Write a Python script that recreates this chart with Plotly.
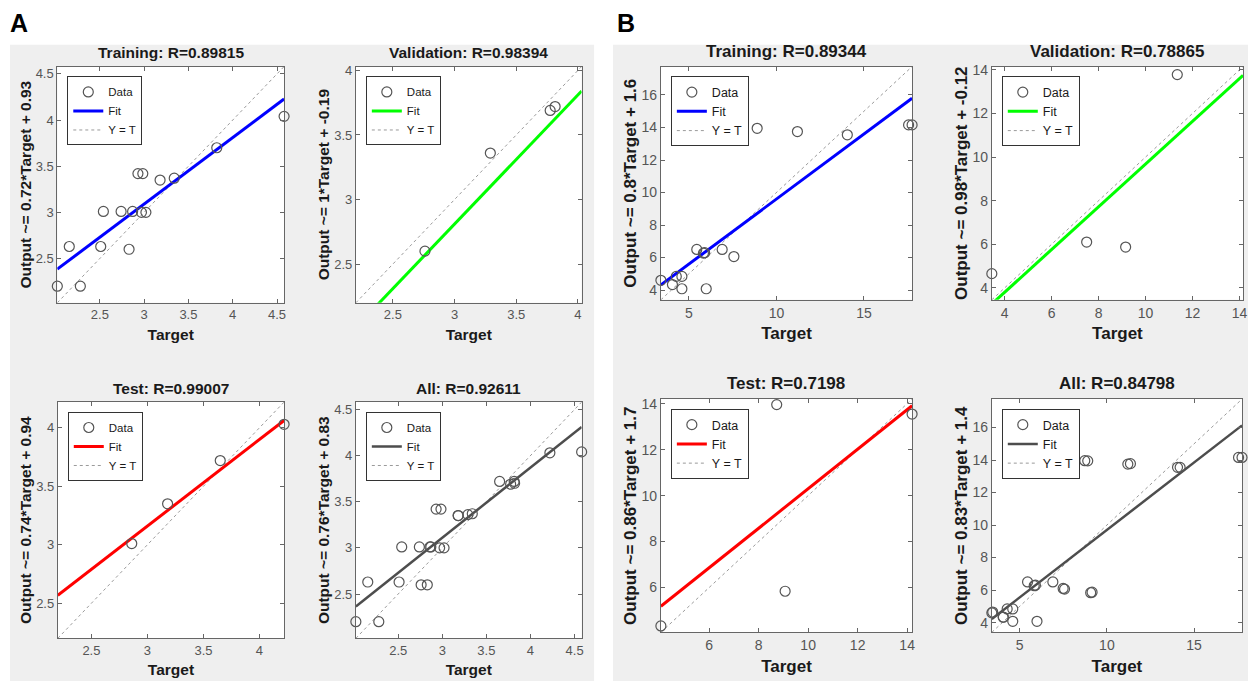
import plotly.graph_objects as go

W, H = 1254, 681
FONT = "Liberation Sans, Arial, sans-serif"

subset_names = ["Training", "Validation", "Test", "All"]

# ---------------- Panel A data ----------------
a_train_target = [2.02, 2.155, 2.28, 2.51, 2.54, 2.74, 2.87, 2.83, 2.93, 2.985, 2.97, 3.02, 3.18, 3.34, 3.82, 4.58]
a_train_output = [2.2, 2.63, 2.2, 2.63, 3.01, 3.01, 3.01, 2.6, 3.42, 3.42, 3.0, 3.0, 3.35, 3.37, 3.7, 4.04]
a_val_target = [2.76, 3.29, 3.775, 3.815]
a_val_output = [2.6, 3.36, 3.69, 3.72]
a_test_target = [2.86, 3.18, 3.65, 4.22]
a_test_output = [3.01, 3.35, 3.72, 4.03]
a_r_values = [0.89815, 0.98394, 0.99007, 0.92611]
a_slopes = [0.72, 1, 0.74, 0.76]
a_intercepts = [0.93, -0.19, 0.94, 0.83]
a_limits = [[2.02, 4.58], [2.2, 4.03], [2.2, 4.22], [2.02, 4.58]]

# ---------------- Panel B data ----------------
b_train_target = [3.4, 4.06, 4.28, 4.6, 4.6, 5.45, 5.83, 5.9, 5.99, 6.9, 7.57, 8.9, 11.2, 14.05, 17.55, 17.75]
b_train_output = [4.6, 4.34, 4.84, 4.84, 4.08, 6.5, 6.27, 6.3, 4.08, 6.5, 6.06, 13.95, 13.75, 13.55, 14.16, 14.16]
b_val_target = [3.45, 7.49, 9.15, 11.35]
b_val_output = [4.65, 6.1, 5.87, 13.78]
b_test_target = [4.05, 8.73, 9.07, 14.2]
b_test_output = [4.33, 13.96, 5.84, 13.55]
b_r_values = [0.89344, 0.78865, 0.7198, 0.84798]
b_slopes = [0.8, 0.98, 0.86, 0.83]
b_intercepts = [1.6, -0.12, 1.7, 1.4]
b_limits = [[3.4, 17.75], [3.45, 14.15], [4.05, 14.2], [3.4, 17.75]]

fit_colors = ["#0000ff", "#00ff00", "#ff0000", "#4d4d4d"]

# ---------------- layout geometry (pixels) ----------------
boxes = [(57.5, 285, 62, 300), (357, 583.5, 62, 300), (58, 285, 400, 638), (357, 583.5, 400, 638),
         (663, 915, 62, 297), (995, 1247, 62, 297), (663, 915, 397, 632), (995, 1246, 397, 632)]
title_centers_y = [48, 48, 386, 386, 47, 47, 381, 381]
x_dticks = [0.5, 0.5, 0.5, 0.5, 5, 2, 2, 5]
y_dticks = [0.5, 0.5, 0.5, 0.5, 2, 2, 2, 2]

panels = []
for p, (tr_t, tr_o, va_t, va_o, te_t, te_o, rv, sl, ic, lims) in enumerate([
        (a_train_target, a_train_output, a_val_target, a_val_output, a_test_target, a_test_output,
         a_r_values, a_slopes, a_intercepts, a_limits),
        (b_train_target, b_train_output, b_val_target, b_val_output, b_test_target, b_test_output,
         b_r_values, b_slopes, b_intercepts, b_limits)]):
    sets = [(tr_t, tr_o), (va_t, va_o), (te_t, te_o), (tr_t + va_t + te_t, tr_o + va_o + te_o)]
    for i in range(4):
        panels.append(dict(panel=p, name=subset_names[i], t=sets[i][0], o=sets[i][1],
                           r=rv[i], m=sl[i], b=ic[i], lim=lims[i], color=fit_colors[i]))

fig = go.Figure()
layout = dict(width=W, height=H, margin=dict(l=0, r=0, t=0, b=0),
              paper_bgcolor="white", plot_bgcolor="white", showlegend=True,
              font=dict(family=FONT))
annotations = []
shapes = [dict(type="rect", xref="paper", yref="paper", x0=10 / W, x1=596 / W, y0=0, y1=1 - 40 / H,
               fillcolor="#efefef", line=dict(width=0), layer="below"),
          dict(type="rect", xref="paper", yref="paper", x0=615 / W, x1=1252 / W, y0=0, y1=1 - 40 / H,
               fillcolor="#efefef", line=dict(width=0), layer="below")]

for k, pn in enumerate(panels, start=1):
    l, r, t, b = boxes[k - 1]
    big = pn["panel"] == 1
    fs = 17 if big else 15.5
    ts = 14 if big else 13
    lf = 12.5 if big else 11.5
    xa = "x" if k == 1 else f"x{k}"
    ya = "y" if k == 1 else f"y{k}"
    lg = "legend" if k == 1 else f"legend{k}"
    lim = pn["lim"]
    m, c = pn["m"], pn["b"]

    fig.add_trace(go.Scatter(x=lim, y=lim, mode="lines", name="Y = T",
                             line=dict(color="#9a9a9a", width=1, dash="dot"),
                             xaxis=xa, yaxis=ya, legend=lg, legendrank=3, hoverinfo="skip"))
    fig.add_trace(go.Scatter(x=lim, y=[m * lim[0] + c, m * lim[1] + c], mode="lines", name="Fit",
                             line=dict(color=pn["color"], width=3 if k % 4 else 2.5),
                             xaxis=xa, yaxis=ya, legend=lg, legendrank=2))
    fig.add_trace(go.Scatter(x=pn["t"], y=pn["o"], mode="markers", name="Data",
                             marker=dict(symbol="circle-open", size=10, color="#555555",
                                         line=dict(width=1.2, color="#555555")),
                             cliponaxis=False, xaxis=xa, yaxis=ya, legend=lg, legendrank=1))

    axis_common = dict(showline=True, linecolor="#666666", linewidth=1, mirror="ticks",
                       ticks="inside", ticklen=4, tickcolor="#666666", showgrid=False,
                       zeroline=False, tick0=0, fixedrange=True,
                       tickfont=dict(family=FONT, size=ts, color="#555555"))
    layout["xaxis" if k == 1 else f"xaxis{k}"] = dict(
        domain=[l / W, r / W], anchor=ya, range=lim, dtick=x_dticks[k - 1],
        title=dict(text="Target", standoff=7,
                   font=dict(family=FONT, size=fs, color="#1a1a1a", weight="bold")),
        **axis_common)
    slope_txt = f"{m:g}"
    ic_txt = f"{c:g}"
    layout["yaxis" if k == 1 else f"yaxis{k}"] = dict(
        domain=[1 - b / H, 1 - t / H], anchor=xa, range=lim, dtick=y_dticks[k - 1],
        title=dict(text=f"Output ~= {slope_txt}*Target + {ic_txt}", standoff=0,
                   font=dict(family=FONT, size=fs, color="#1a1a1a", weight="bold")),
        **axis_common)
    layout[lg] = dict(x=(l + 10) / W, y=1 - (t + 10) / H, xanchor="left", yanchor="top",
                      bgcolor="white", bordercolor="#333333", borderwidth=1,
                      font=dict(family=FONT, size=lf, color="#1a1a1a"), tracegroupgap=0)
    annotations.append(dict(text=f"{pn['name']}: R={pn['r']}", xref="paper", yref="paper",
                            x=(l + r) / 2 / W, y=1 - title_centers_y[k - 1] / H,
                            xanchor="center", yanchor="middle", showarrow=False,
                            font=dict(family=FONT, size=fs, color="#1a1a1a", weight="bold")))
    shapes.append(dict(type="rect", xref="paper", yref="paper", x0=l / W, x1=r / W,
                       y0=1 - b / H, y1=1 - t / H, fillcolor="white", line=dict(width=0),
                       layer="below"))

annotations.append(dict(text="A", xref="paper", yref="paper", x=19 / W, y=1 - 18 / H,
                        xanchor="center", yanchor="middle", showarrow=False,
                        font=dict(family=FONT, size=25, color="black", weight="bold")))
annotations.append(dict(text="B", xref="paper", yref="paper", x=628 / W, y=1 - 18 / H,
                        xanchor="center", yanchor="middle", showarrow=False,
                        font=dict(family=FONT, size=25, color="black", weight="bold")))

layout["annotations"] = annotations
layout["shapes"] = shapes
fig.update_layout(**layout)
fig.write_html("out.html")
